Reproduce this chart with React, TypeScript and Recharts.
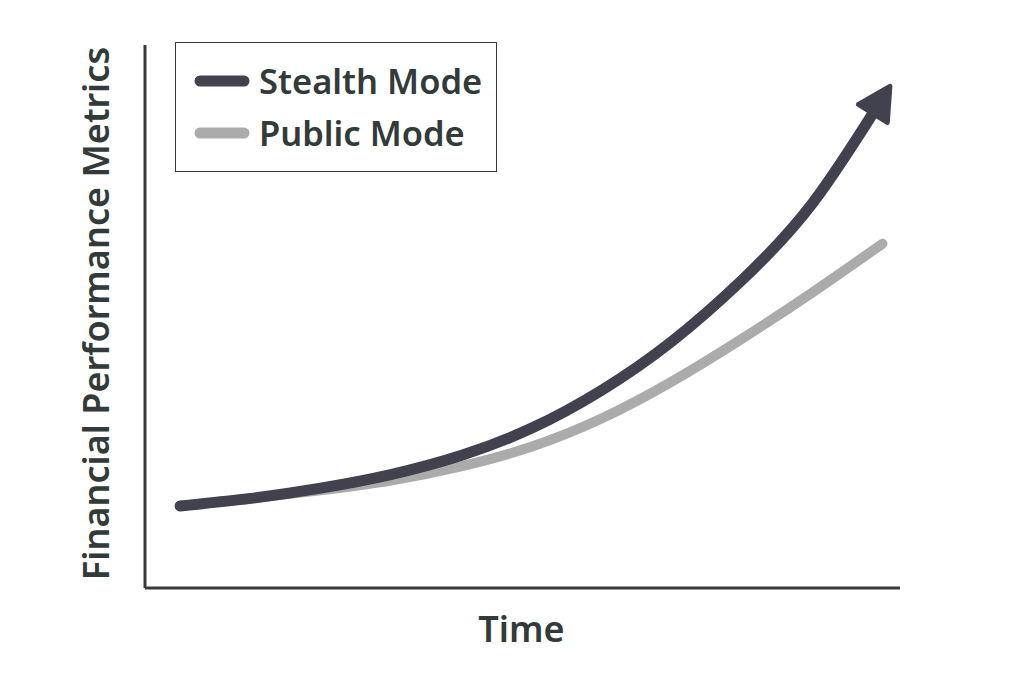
import React from "react";
import { LineChart, Line, XAxis, YAxis, Legend } from "recharts";

// time steps along the x axis (no tick labels are shown)
const time = [0, 1, 2, 3, 4, 5, 6, 7, 8, 9, 10];
const stealthMode = [15.1, 16.5, 18.4, 20.9, 24.4, 29.4, 36.4, 45.4, 56.7, 70.8, 90.2];
const publicMode = [15.1, 16.5, 18.0, 19.8, 22.4, 26.0, 31.2, 38.0, 45.9, 54.4, 63.4];

const seriesNames = ["Stealth Mode", "Public Mode"];
const seriesColors = ["#42424e", "#ababab"];

const data = time.map((t, i) => ({
	t,
	stealth: stealthMode[i],
	public: publicMode[i],
}));

const FONT = "'Noto Sans', 'Open Sans', sans-serif";
const TEXT = "#323a3a";
const AXIS = "#3a3a3a";

function LegendBox() {
	return (
		<div
			style={{
				width: 322,
				height: 130,
				border: `1.5px solid ${AXIS}`,
				boxSizing: "border-box",
				background: "#fff",
				paddingTop: 12,
			}}
		>
			{seriesNames.map((name, i) => (
				<div
					key={name}
					style={{ display: "flex", alignItems: "center", height: 52 }}
				>
					<svg width={83} height={20} style={{ flex: "none" }}>
						<line
							x1={24}
							y1={10}
							x2={68}
							y2={10}
							stroke={seriesColors[i]}
							strokeWidth={11}
							strokeLinecap="round"
						/>
					</svg>
					<span
						style={{
							fontFamily: FONT,
							fontWeight: 600,
							fontSize: 34.5,
							color: TEXT,
							lineHeight: 1,
						}}
					>
						{name}
					</span>
				</div>
			))}
		</div>
	);
}

export default function App() {
	return (
		<LineChart
			width={1000}
			height={660}
			data={data}
			margin={{ top: 37, right: 108, bottom: 20, left: 77 }}
		>
			<defs>
				<marker
					id="arrowHead"
					viewBox="0 0 44 44"
					markerWidth={44}
					markerHeight={44}
					refX={24}
					refY={22}
					orient="auto"
					markerUnits="userSpaceOnUse"
				>
					<path
						d="M6,5 L38,22 L6,39 Z"
						fill={seriesColors[0]}
						stroke={seriesColors[0]}
						strokeWidth={5}
						strokeLinejoin="round"
					/>
				</marker>
			</defs>
			<XAxis
				dataKey="t"
				type="number"
				domain={[-0.5, 10.25]}
				tick={false}
				tickLine={false}
				axisLine={{ stroke: AXIS, strokeWidth: 3 }}
				height={60}
				label={{
					content: (props: any) => {
						const vb = props.viewBox;
						return (
							<text
								x={vb.x + vb.width / 2 - 1}
								y={vb.y + 54}
								textAnchor="middle"
								fontFamily={FONT}
								fontWeight={600}
								fontSize={36}
								fill={TEXT}
							>
								Time
							</text>
						);
					},
				}}
			/>
			<YAxis
				type="number"
				domain={[0, 100]}
				tick={false}
				tickLine={false}
				axisLine={{ stroke: AXIS, strokeWidth: 3 }}
				width={60}
				label={{
					content: (props: any) => {
						const vb = props.viewBox;
						const cx = 101;
						const cy = vb.y + vb.height / 2 - 3;
						return (
							<text
								x={cx}
								y={cy}
								transform={`rotate(-90, ${cx}, ${cy})`}
								textAnchor="middle"
								fontFamily={FONT}
								fontWeight={600}
								fontSize={36}
								fill={TEXT}
							>
								Financial Performance Metrics
							</text>
						);
					},
				}}
			/>
			<Legend
				layout="horizontal"
				verticalAlign="middle"
				align="center"
				wrapperStyle={{ left: 167, top: 34, width: 322 }}
				content={() => <LegendBox />}
			/>
			<Line
				type="natural"
				dataKey="public"
				name={seriesNames[1]}
				stroke={seriesColors[1]}
				strokeWidth={10}
				strokeLinecap="round"
				dot={false}
				activeDot={false}
				isAnimationActive={false}
			/>
			<Line
				type="natural"
				dataKey="stealth"
				name={seriesNames[0]}
				stroke={seriesColors[0]}
				strokeWidth={11}
				strokeLinecap="round"
				markerEnd="url(#arrowHead)"
				dot={false}
				activeDot={false}
				isAnimationActive={false}
			/>
		</LineChart>
	);
}
